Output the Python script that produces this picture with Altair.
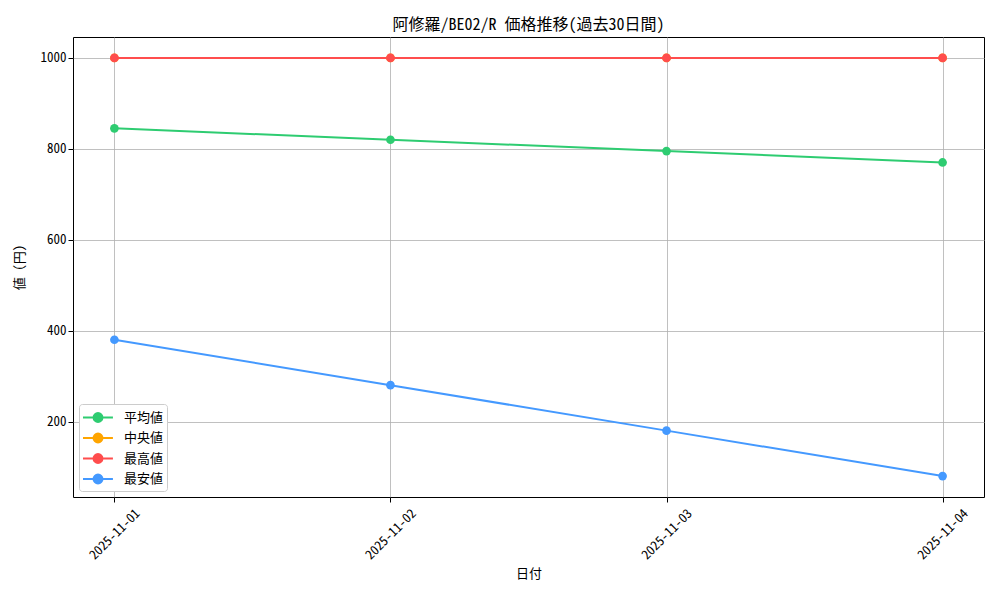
import pandas as pd
import altair as alt

# データ
dates = ["2025-11-01", "2025-11-02", "2025-11-03", "2025-11-04"]
series_names = ["平均値", "中央値", "最高値", "最安値"]
avg_values = [845, 820, 795, 770]
median_values = [1000, 1000, 1000, 1000]
max_values = [1000, 1000, 1000, 1000]
min_values = [380, 280, 180, 80]
colors = ["#2ecc71", "#ffa500", "#ff4d4d", "#4499ff"]
y_ticks = [200, 400, 600, 800, 1000]

rows = []
for name, vals in zip(series_names, [avg_values, median_values, max_values, min_values]):
    for d, v in zip(dates, vals):
        rows.append({"date": d, "series": name, "value": v})
df = pd.DataFrame(rows)

FONT = "Noto Sans Mono CJK JP, Noto Sans CJK JP"

# 凡例: 線 + 丸 (右に伸びるパス)
legend_symbol = (
    "M-1,0L2.15,0"
    "M0.11,0A0.47,0.47,0,1,1,1.05,0A0.47,0.47,0,1,1,0.11,0Z"
)

x_enc = alt.X(
    "date:O",
    title="日付",
    sort=dates,
    scale=alt.Scale(type="point", padding=0.15),
    axis=alt.Axis(labelAngle=-45, labelAlign="center", labelBaseline="middle", labelPadding=32),
)
y_enc = alt.Y(
    "value:Q",
    title="値 (円)",
    scale=alt.Scale(domain=[34, 1046], nice=False, zero=False),
    axis=alt.Axis(values=y_ticks, format="d"),
)
color_scale = alt.Scale(domain=series_names, range=colors)
legend = alt.Legend(
    title=None,
    orient="bottom-left",
    offset=6,
    symbolType=legend_symbol,
    symbolSize=361,
    symbolStrokeWidth=2,
    symbolOpacity=1,
    labelFontSize=13,
    labelFont=FONT,
    labelOffset=21,
    rowPadding=1.5,
    fillColor="white",
    strokeColor="#cccccc",
    cornerRadius=3,
    padding=3,
)

base = alt.Chart(df)
layers = []
for name in series_names:
    sub = base.transform_filter(alt.datum.series == name)
    line = sub.mark_line(strokeWidth=2).encode(
        x=x_enc,
        y=y_enc,
        stroke=alt.Stroke("series:N", scale=color_scale, legend=legend, sort=series_names),
    )
    pts = sub.mark_circle(size=75, opacity=1).encode(
        x=x_enc,
        y=y_enc,
        fill=alt.Fill("series:N", scale=color_scale, legend=legend, sort=series_names),
    )
    layers += [line, pts]

chart = alt.layer(*layers).properties(
    width=911,
    height=460,
    title=alt.TitleParams("阿修羅/BE02/R 価格推移(過去30日間)", fontSize=16, fontWeight="normal", font=FONT, offset=4),
    autosize=alt.AutoSizeParams(type="none"),
    padding={"left": 65, "top": 29, "right": 8, "bottom": 88},
).configure_view(
    stroke="black", strokeWidth=1
).configure_axis(
    grid=True,
    gridColor="#b0b0b0",
    gridWidth=0.8,
    domain=False,
    tickColor="black",
    tickSize=5,
    labelFont=FONT,
    labelFontSize=13,
    labelColor="black",
    titleFont=FONT,
    titleFontSize=13,
    titleFontWeight="normal",
    titleColor="black",
).configure_axisY(
    titlePadding=14
).configure_axisX(
    titlePadding=6
)

chart.save("out.html", embed_options={"renderer": "svg", "actions": False})
